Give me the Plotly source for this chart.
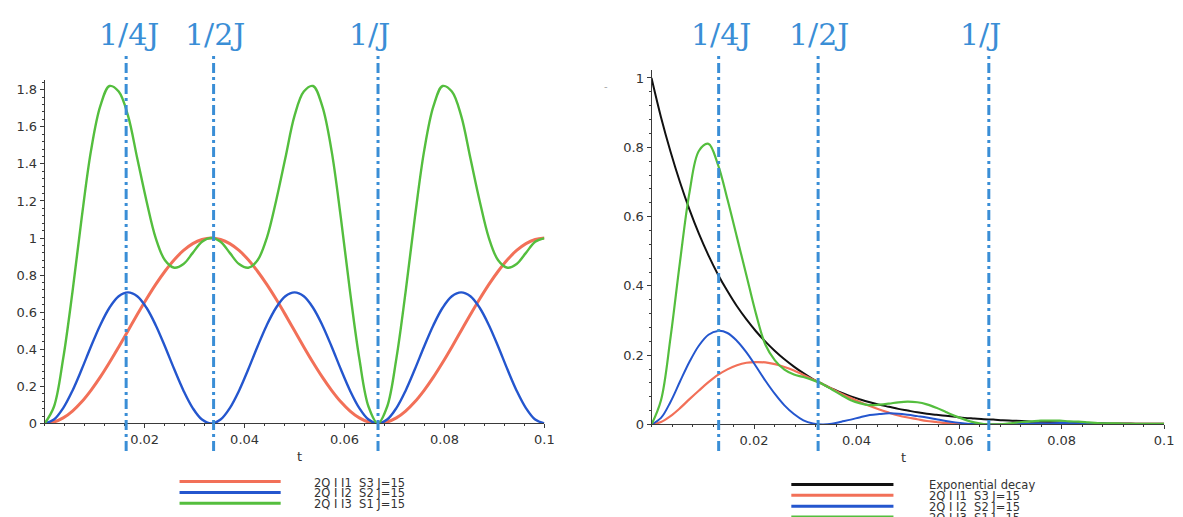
import plotly.graph_objects as go

W, H = 1183, 517

# ---------------- data ----------------
t = [0, 0.00185, 0.0037, 0.00556, 0.00741, 0.00926, 0.01111, 0.01296, 0.01481, 0.01667,
     0.01852, 0.02037, 0.02222, 0.02407, 0.02593, 0.02778, 0.02963, 0.03148, 0.03333, 0.03519,
     0.03704, 0.03889, 0.04074, 0.04259, 0.04444, 0.0463, 0.04815, 0.05, 0.05185, 0.0537,
     0.05556, 0.05741, 0.05926, 0.06111, 0.06296, 0.06481, 0.06667, 0.06852, 0.07037, 0.07222,
     0.07407, 0.07593, 0.07778, 0.07963, 0.08148, 0.08333, 0.08519, 0.08704, 0.08889, 0.09074,
     0.09259, 0.09444, 0.0963, 0.09815, 0.1]

# left panel
left_red = [0, 0.008, 0.030, 0.067, 0.117, 0.179, 0.250, 0.329, 0.413, 0.500, 0.587, 0.671, 0.750,
            0.821, 0.883, 0.933, 0.970, 0.992, 1.000,
            0.992, 0.970, 0.933, 0.883, 0.821, 0.750, 0.671, 0.587, 0.500, 0.413, 0.329, 0.250,
            0.179, 0.117, 0.067, 0.030, 0.008, 0,
            0.008, 0.030, 0.067, 0.117, 0.179, 0.250, 0.329, 0.413, 0.500, 0.587, 0.671, 0.750,
            0.821, 0.883, 0.933, 0.970, 0.992, 1.000]
left_blue = [0, 0.021, 0.083, 0.177, 0.292, 0.415, 0.530, 0.624, 0.686, 0.707,
             0.686, 0.624, 0.530, 0.415, 0.292, 0.177, 0.083, 0.021, 0,
             0.021, 0.083, 0.177, 0.292, 0.415, 0.530, 0.624, 0.686, 0.707,
             0.686, 0.624, 0.530, 0.415, 0.292, 0.177, 0.083, 0.021, 0,
             0.021, 0.083, 0.177, 0.292, 0.415, 0.530, 0.624, 0.686, 0.707,
             0.686, 0.624, 0.530, 0.415, 0.292, 0.177, 0.083, 0.021, 0]
left_green = [0, 0.09, 0.35, 0.71, 1.11, 1.47, 1.71, 1.82, 1.79, 1.66, 1.43, 1.20, 1.00, 0.88,
              0.84, 0.86, 0.92, 0.98, 1.00,
              0.98, 0.92, 0.86, 0.84, 0.88, 1.00, 1.20, 1.43, 1.66, 1.79, 1.82, 1.71, 1.47,
              1.11, 0.71, 0.35, 0.09, 0,
              0.09, 0.35, 0.71, 1.11, 1.47, 1.71, 1.82, 1.79, 1.66, 1.43, 1.20, 1.00, 0.88,
              0.84, 0.86, 0.92, 0.98, 1.00]

# right panel
right_black = [1, 0.887, 0.788, 0.699, 0.620, 0.550, 0.488, 0.433, 0.385, 0.341,
               0.303, 0.269, 0.239, 0.212, 0.188, 0.167, 0.148, 0.131, 0.117, 0.103,
               0.092, 0.081, 0.072, 0.064, 0.057, 0.051, 0.045, 0.040, 0.035, 0.031,
               0.028, 0.025, 0.022, 0.019, 0.017, 0.015, 0.014, 0.012, 0.011, 0.010,
               0.008, 0.008, 0.007, 0.006, 0.005, 0.005, 0.004, 0.004, 0.003, 0.003,
               0.003, 0.002, 0.002, 0.002, 0.002]
right_red = [0, 0.007, 0.024, 0.047, 0.073, 0.098, 0.122, 0.143, 0.159, 0.171,
             0.178, 0.180, 0.179, 0.174, 0.166, 0.156, 0.143, 0.130, 0.117, 0.103,
             0.089, 0.076, 0.064, 0.053, 0.043, 0.034, 0.026, 0.020, 0.015, 0.010,
             0.007, 0.004, 0.003, 0.001, 0.001, 0, 0, 0, 0, 0.001,
             0.001, 0.001, 0.002, 0.002, 0.002, 0.002, 0.002, 0.002, 0.002, 0.002,
             0.002, 0.002, 0.002, 0.002, 0.002]
right_blue = [0, 0.019, 0.065, 0.124, 0.181, 0.228, 0.259, 0.270, 0.264, 0.241,
              0.208, 0.168, 0.126, 0.088, 0.055, 0.030, 0.012, 0.003, 0, 0.002,
              0.008, 0.014, 0.021, 0.027, 0.030, 0.032, 0.031, 0.028, 0.024, 0.020,
              0.015, 0.010, 0.006, 0.003, 0.001, 0, 0, 0, 0.001, 0.002,
              0.002, 0.003, 0.003, 0.004, 0.004, 0.003, 0.003, 0.002, 0.002, 0.001,
              0.001, 0, 0, 0, 0]
right_green = [0, 0.07, 0.25, 0.47, 0.67, 0.79, 0.81, 0.75, 0.65, 0.54,
               0.43, 0.32, 0.23, 0.185, 0.158, 0.144, 0.137, 0.128, 0.117, 0.101,
               0.085, 0.070, 0.061, 0.056, 0.057, 0.060, 0.064, 0.066, 0.064, 0.058,
               0.048, 0.036, 0.024, 0.014, 0.006, 0.001, 0, 0.001, 0.004, 0.007,
               0.009, 0.011, 0.011, 0.011, 0.009, 0.008, 0.006, 0.004, 0.003, 0.003,
               0.002, 0.002, 0.002, 0.002, 0.002]

# marker lines 1/4J, 1/2J, 1/J (as placed in the picture)
marker_labels = ["1/4J", "1/2J", "1/J"]
left_markers = [0.0163, 0.0338, 0.0667]
right_markers = [0.0131, 0.0325, 0.0658]

x_tickvals = [0.02, 0.04, 0.06, 0.08, 0.1]
x_ticktext = ["0.02", "0.04", "0.06", "0.08", "0.1"]
left_y_tickvals = [0, 0.2, 0.4, 0.6, 0.8, 1.0, 1.2, 1.4, 1.6, 1.8]
left_y_ticktext = ["0", "0.2", "0.4", "0.6", "0.8", "1", "1.2", "1.4", "1.6", "1.8"]
right_y_tickvals = [0, 0.2, 0.4, 0.6, 0.8, 1.0]
right_y_ticktext = ["0", "0.2", "0.4", "0.6", "0.8", "1"]

left_legend = ["2Q I I1  S3 J=15", "2Q I I2  S2 J=15", "2Q I I3  S1 J=15"]
right_legend = ["Exponential decay", "2Q I I1  S3 J=15", "2Q I I2  S2 J=15", "2Q I I3  S1 J=15"]

# ---------------- styles ----------------
RED = "rgb(242,112,88)"
BLUE = "rgb(36,86,206)"
GREEN = "rgb(84,190,62)"
BLACK = "rgb(17,17,17)"
MARK = "rgb(58,142,214)"
AX = "#3a3a3a"

def px(x):
    return x / W

def py(y):
    return 1 - y / H

fig = go.Figure()

for ys, col, w in [(left_red, RED, 3), (left_blue, BLUE, 2.4), (left_green, GREEN, 2.4)]:
    fig.add_trace(go.Scatter(x=t, y=ys, mode="lines", xaxis="x", yaxis="y",
                             line=dict(color=col, width=w, shape="spline", smoothing=1.0),
                             showlegend=False, hoverinfo="skip"))

for ys, col, w in [(right_black, BLACK, 2), (right_red, RED, 2.2), (right_blue, BLUE, 2),
                   (right_green, GREEN, 2.2)]:
    fig.add_trace(go.Scatter(x=t, y=ys, mode="lines", xaxis="x2", yaxis="y2",
                             line=dict(color=col, width=w, shape="spline", smoothing=1.0),
                             showlegend=False, hoverinfo="skip"))

tickfont = dict(family="DejaVu Sans", size=13, color="#333")
common_x = dict(range=[0, 0.1], showgrid=False, zeroline=False, showline=True, linecolor=AX,
                linewidth=1, ticks="outside", ticklen=4, tickcolor=AX, tickvals=x_tickvals,
                ticktext=x_ticktext, tickfont=tickfont,
                minor=dict(dtick=0.004, tick0=0, ticks="outside", ticklen=2, tickcolor=AX))
common_y = dict(showgrid=False, zeroline=False, showline=True, linecolor=AX, linewidth=1,
                ticks="outside", ticklen=4, tickcolor=AX, tickfont=tickfont,
                minor=dict(dtick=0.04, tick0=0, ticks="outside", ticklen=2, tickcolor=AX))

fig.update_layout(
    width=W, height=H, margin=dict(l=0, r=0, t=0, b=0),
    paper_bgcolor="white", plot_bgcolor="white", showlegend=False,
    xaxis=dict(domain=[px(37), px(541)], anchor="y", **common_x),
    yaxis=dict(domain=[py(422), py(73)], anchor="x", range=[0, 1.853],
               tickvals=left_y_tickvals, ticktext=left_y_ticktext, **common_y),
    xaxis2=dict(domain=[px(649), px(1166)], anchor="y2", **common_x),
    yaxis2=dict(domain=[py(423), py(63)], anchor="x2", range=[0, 1.023],
                tickvals=right_y_tickvals, ticktext=right_y_ticktext, **common_y),
)

shapes = []
annotations = []
label_font = dict(family="DejaVu Serif", size=30, color=MARK)
for xr, marks, shifts in [("x", left_markers, [3, 1, -9]), ("x2", right_markers, [2, 1, -8])]:
    for m, lab, sh in zip(marks, marker_labels, shifts):
        shapes.append(dict(type="line", xref=xr, yref="paper", x0=m, x1=m, y0=py(450), y1=py(45),
                           line=dict(color=MARK, width=3, dash="10px,4px,3px,4px"), layer="above"))
        annotations.append(dict(x=m, xref=xr, y=py(27), yref="paper", text=lab, showarrow=False,
                                xanchor="center", yanchor="middle", xshift=sh, font=label_font))

# axis titles
annotations.append(dict(x=px(289), y=py(465), xref="paper", yref="paper", text="t", showarrow=False,
                        font=dict(family="DejaVu Sans", size=13, color="#333")))
annotations.append(dict(x=px(908), y=py(466), xref="paper", yref="paper", text="t", showarrow=False,
                        font=dict(family="DejaVu Sans", size=13, color="#333")))
# stray mark in the right panel
annotations.append(dict(x=px(603), y=py(72), xref="paper", yref="paper", text="-", showarrow=False,
                        font=dict(family="DejaVu Sans", size=10, color="#aaa")))

legfont = dict(family="DejaVu Sans", size=11.5, color="#333")
for i, (lab, col) in enumerate(zip(left_legend, [RED, BLUE, GREEN])):
    yy = 481 + 11 * i
    shapes.append(dict(type="line", xref="paper", yref="paper", x0=px(173), x1=px(275),
                       y0=py(yy), y1=py(yy), line=dict(color=col, width=3)))
    annotations.append(dict(x=px(307), y=py(yy + 1), xref="paper", yref="paper", text=lab,
                            showarrow=False, xanchor="left", yanchor="middle", font=legfont))
for i, (lab, col) in enumerate(zip(right_legend, [BLACK, RED, BLUE, GREEN])):
    yy = 484 + 11 * i
    shapes.append(dict(type="line", xref="paper", yref="paper", x0=px(790), x1=px(893),
                       y0=py(yy), y1=py(yy), line=dict(color=col, width=3)))
    annotations.append(dict(x=px(927), y=py(yy + 1), xref="paper", yref="paper", text=lab,
                            showarrow=False, xanchor="left", yanchor="middle", font=legfont))

fig.update_layout(shapes=shapes, annotations=annotations)
fig.write_html("out.html")
